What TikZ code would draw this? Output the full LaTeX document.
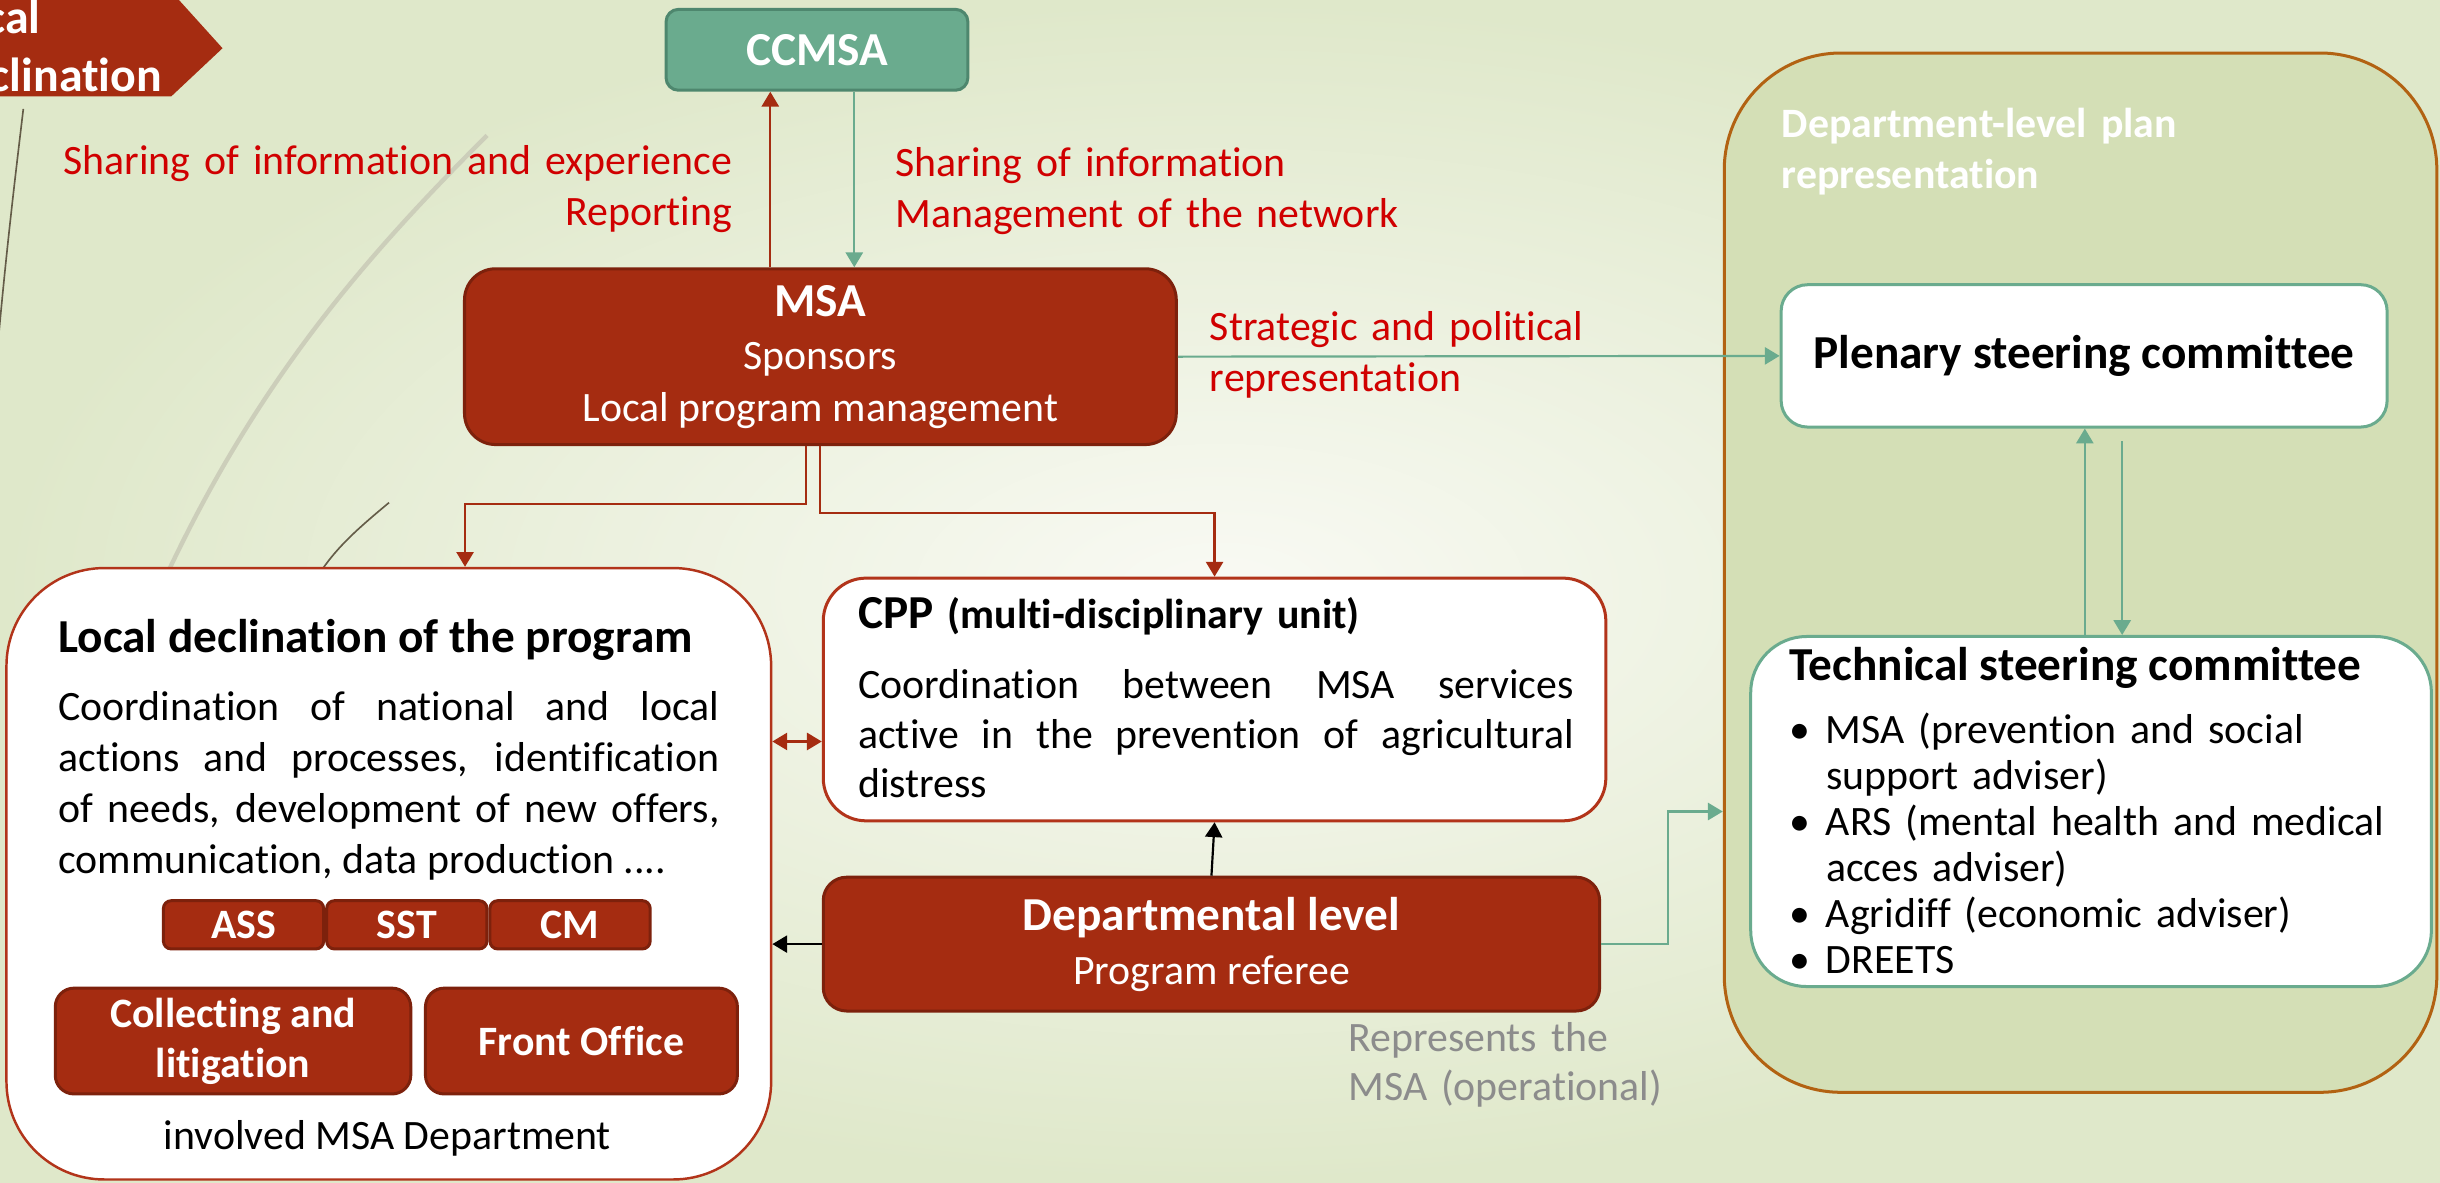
\documentclass[tikz,border=0pt]{standalone}
\usepackage{fontspec}
\setmainfont{Carlito}[Ligatures=NoCommon]
\usepackage{tikz}
\usetikzlibrary{arrows.meta,positioning}

\definecolor{msared}{RGB}{165,44,17}
\definecolor{msaedge}{RGB}{125,33,12}
\definecolor{labelred}{RGB}{208,0,0}
\definecolor{ccteal}{RGB}{106,171,142}
\definecolor{ccedge}{RGB}{78,135,110}
\definecolor{panelfill}{RGB}{212,223,182}
\definecolor{paneledge}{RGB}{178,98,18}
\definecolor{boxedge}{RGB}{178,52,26}
\definecolor{greytext}{RGB}{140,140,140}
\definecolor{bgin}{RGB}{249,250,244}
\definecolor{bgout}{RGB}{223,232,202}
\definecolor{decodark}{RGB}{100,92,72}
\definecolor{decosoft}{RGB}{204,206,186}

\newcommand{\bodysize}{\fontsize{15.3}{18.7}\selectfont}
\newcommand{\headsize}{\fontsize{17.3}{20}\selectfont}

\begin{document}
\begin{tikzpicture}[x=0.02cm,y=-0.02cm,>={Triangle[length=1.9mm,width=2.2mm]},
                    semithick]
  \tikzstyle{darkbox}=[draw=msaedge,fill=msared,text=white,line width=1.1pt,
                       inner sep=0pt,align=center,font=\bodysize]
  \tikzstyle{whitebox}=[fill=white,line width=1.1pt,inner sep=0pt]
  \tikzstyle{plain}=[inner sep=0pt,font=\bodysize]
  \tikzstyle{redline}=[->,draw=msared,line width=0.8pt]
  \tikzstyle{tealline}=[->,draw=ccteal,line width=0.8pt]
  \tikzstyle{blackline}=[->,draw=black,line width=0.8pt]

  % slide background
  \useasboundingbox (0,0) rectangle (1568,760);
  \shade[inner color=bgin,outer color=bgout] (0,0) rectangle (1568,760);
  \draw[decodark,line width=0.6pt] (15,70) .. controls (9,120) and (3,170) .. (-3,240);
  \draw[decosoft,line width=1.6pt] (313,87) .. controls (230,170) and (150,260) .. (85,420);
  \draw[decodark,line width=0.6pt] (250,323) .. controls (232,338) and (218,350) .. (207,366);

  % corner banner
  \fill[msared] (-5,0) -- (115,0) -- (143,31) -- (110,62) -- (-5,62) -- cycle;
  \node[plain,anchor=base west,text width=4cm,align=left,text=white,
        font=\fontsize{17.5}{21}\selectfont\bfseries] (Banner) at (-39,21.6) {Local\\declination};

  % department-level panel
  \node[draw=paneledge,fill=panelfill,line width=1.1pt,rounded corners=1.5cm,
        minimum width=9.16cm,minimum height=13.36cm] (Panel) at (1337,368) {};
  \node[plain,anchor=base west,text width=6cm,align=left,text=white,
        font=\fontsize{15.3}{18.4}\selectfont\bfseries] (PanelTitle) at (1144.6,88.5)
        {Department-level plan\\representation};

  % main boxes
  \node[draw=ccedge,fill=ccteal,text=white,line width=1.1pt,rounded corners=0.16cm,
        minimum width=3.88cm,minimum height=1.04cm,font=\headsize\bfseries] (CCMSA) at (525,32) {CCMSA};
  \node[darkbox,rounded corners=0.4cm,minimum width=9.15cm,minimum height=2.26cm] (MSA) at (527.2,229.2)
        {{\headsize\bfseries MSA}\\[1pt]Sponsors\\Local program management};
  \node[whitebox,draw=ccteal,rounded corners=0.34cm,minimum width=7.79cm,minimum height=1.83cm,
        font=\headsize\bfseries] (Plen) at (1339.3,228.7) {Plenary steering committee};
  \node[whitebox,draw=ccteal,rounded corners=0.72cm,minimum width=8.75cm,minimum height=4.5cm] (Tech) at (1343.75,521.5) {};
  \node[whitebox,draw=boxedge,rounded corners=0.55cm,minimum width=10.06cm,minimum height=3.12cm] (CPP) at (780.5,449.5) {};
  \node[whitebox,draw=boxedge,line width=0.9pt,rounded corners=1.26cm,minimum width=9.83cm,minimum height=7.86cm] (Local) at (249.85,561.5) {};
  \node[darkbox,rounded corners=0.3cm,minimum width=9.98cm,minimum height=1.72cm] (Dept) at (778.5,606.7)
        {{\headsize\bfseries Departmental level}\\[1pt]Program referee};

  % inside the local box
  \node[plain,anchor=base west,font=\headsize\bfseries] (LocalTitle) at (37,419.5) {Local declination of the program};
  \node[plain,anchor=base west,text width=8.5cm,align=justify] (LocalText) at (37,463)
        {Coordination of national and local\linebreak actions and processes, identification\linebreak
         of needs, development of new offers,\linebreak communication, data production ....};
  \node[darkbox,rounded corners=0.1cm,minimum width=2.06cm,minimum height=0.62cm,
        font=\bodysize\bfseries] (ASS) at (156.5,594.3) {ASS};
  \node[darkbox,rounded corners=0.1cm,minimum width=2.06cm,minimum height=0.62cm,
        font=\bodysize\bfseries] (SST) [right=0pt of ASS] {SST};
  \node[darkbox,rounded corners=0.1cm,minimum width=2.06cm,minimum height=0.62cm,
        font=\bodysize\bfseries] (CM) [right=0pt of SST] {CM};
  \node[darkbox,rounded corners=0.24cm,minimum width=4.57cm,minimum height=1.36cm,
        font=\fontsize{15.3}{18.4}\selectfont\bfseries] (Collect) at (149.75,669) {Collecting and\\litigation};
  \node[darkbox,rounded corners=0.24cm,minimum width=4.01cm,minimum height=1.36cm,
        font=\bodysize\bfseries] (Front) [right=0.15cm of Collect] {Front Office};
  \node[plain,anchor=base] (Involved) at (249,739) {involved MSA Department};

  % inside the CPP box
  \node[plain,anchor=base west,text width=9.2cm] (CPPTitle) at (551,404)
        {{\headsize\bfseries CPP} \textbf{(multi-disciplinary unit)}};
  \node[plain,anchor=base west,text width=9.2cm,align=justify,
        font=\fontsize{15.3}{18.1}\selectfont] (CPPText) at (551,449)
        {Coordination between MSA services\linebreak active in the prevention of agricultural\linebreak distress};

  % inside the technical committee
  \node[plain,anchor=base west,font=\headsize\bfseries] (TechTitle) at (1149.4,437.6) {Technical steering committee};
  \node[plain,anchor=base west,text width=8cm,align=left,
        font=\fontsize{15.3}{16.8}\selectfont] (TechList) at (1149.4,477.8)
        {\makebox[0.47cm][l]{\textbullet}MSA (prevention and social\\
         \hspace*{0.47cm}support adviser)\\
         \makebox[0.47cm][l]{\textbullet}ARS (mental health and medical\\
         \hspace*{0.47cm}acces adviser)\\
         \makebox[0.47cm][l]{\textbullet}Agridiff (economic adviser)\\
         \makebox[0.47cm][l]{\textbullet}DREETS};

  % connector labels
  \node[plain,anchor=base east,text width=9cm,align=right,text=labelred] (UpLabel) at (471,112)
        {Sharing of information and experience\\Reporting};
  \node[plain,anchor=base west,text width=7cm,align=left,text=labelred] (DownLabel) at (575,113.6)
        {Sharing of information\\Management of the network};
  \node[plain,anchor=base west,text width=7cm,align=left,text=labelred,
        font=\fontsize{15.3}{18.4}\selectfont] (StratLabel) at (777,219)
        {Strategic and political\\representation};
  \node[plain,anchor=base west,text width=5cm,align=left,text=greytext,
        font=\fontsize{15.3}{18.1}\selectfont] (RepLabel) at (866,675.6)
        {Represents the\\MSA (operational)};

  % connectors
  \coordinate (upA) at ([xshift=-0.6cm]CCMSA.south);
  \coordinate (dnA) at ([xshift=0.48cm]CCMSA.south);
  \coordinate (lA) at ([xshift=-0.19cm]MSA.south);
  \coordinate (lB) at ([xshift=0.98cm]Local.north);
  \coordinate (cppW) at ([yshift=-0.54cm]CPP.west);
  \coordinate (tU) at ([xshift=-0.08cm]Tech.north);
  \coordinate (tD) at ([xshift=0.4cm]Tech.north);
  \coordinate (pS) at ([yshift=-0.16cm]Plen.south);

  \path (upA |- MSA.north) edge[redline]  (upA)
        (dnA)              edge[tealline] (dnA |- MSA.north)
        (MSA.east)         edge[tealline] (Plen.west)
        (cppW)             edge[redline,<->] (cppW -| Local.east)
        (Dept.north)       edge[blackline] (CPP.south)
        (Dept.west)        edge[blackline] (Dept.west -| Local.east)
        (tU)               edge[tealline] (tU |- Plen.south)
        (pS -| tD)         edge[tealline] (tD);
  \draw[redline] (lA) -- ++(0,37.3) -| (lB);
  \draw[redline] (MSA.south) -- ++(0,43.1) -| (CPP.north);
  \draw[tealline] (Dept.east) -- ++(43,0) |- (Tech.west -| Panel.west);
\end{tikzpicture}
\end{document}
